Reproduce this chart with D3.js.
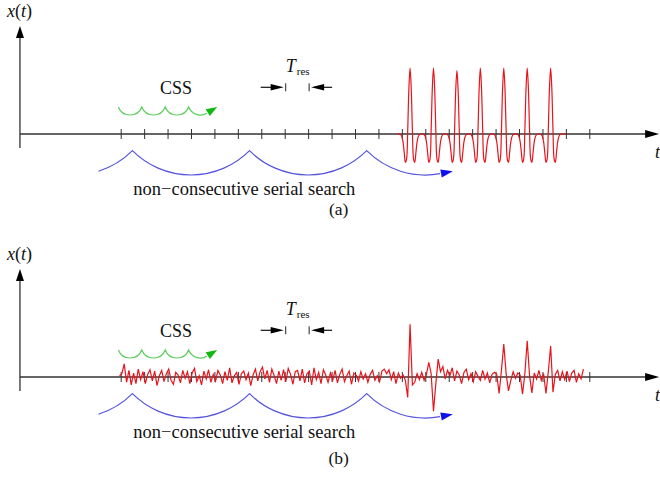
<!DOCTYPE html>
<html>
<head>
<meta charset="utf-8">
<script src="https://cdn.jsdelivr.net/npm/d3@7"></script>
<style>
body { margin: 0; background: #fff; }
</style>
</head>
<body>
<script>
// time axis ticks, one per T_res
var tickValues = [0, 1, 2, 3, 4, 5, 6, 7, 8, 9, 10, 11, 12, 13, 14, 15, 16, 17, 18, 19, 20];

// (a) clean pulse train, sampled every 0.05 T_res from t = 11.8
var cleanStart = 11.8, cleanStep = 0.05;
var cleanValues = [
    0, 0, 0, -0.01, -0.04, -0.12, -0.28, -0.43, -0.38, 0.06, 0.69, 1,
    0.69, 0.06, -0.38, -0.43, -0.28, -0.12, -0.04, -0.01, 0, 0, 0, -0.01, -0.04, -0.12, -0.28, -0.43, -0.38, 0.06, 0.69, 1,
    0.69, 0.06, -0.38, -0.43, -0.28, -0.12, -0.04, -0.01, 0, 0, 0, -0.01, -0.04, -0.12, -0.28, -0.43, -0.38, 0.06, 0.67, 0.96,
    0.67, 0.06, -0.38, -0.43, -0.28, -0.12, -0.04, -0.01, 0, 0, 0, -0.01, -0.04, -0.12, -0.28, -0.43, -0.38, 0.06, 0.69, 1,
    0.69, 0.06, -0.38, -0.43, -0.28, -0.12, -0.04, -0.01, 0, 0, 0, -0.01, -0.04, -0.12, -0.28, -0.43, -0.38, 0.06, 0.69, 1,
    0.69, 0.06, -0.38, -0.43, -0.28, -0.12, -0.04, -0.01, 0, 0, 0, -0.01, -0.04, -0.12, -0.28, -0.43, -0.38, 0.06, 0.69, 1,
    0.69, 0.06, -0.38, -0.43, -0.28, -0.12, -0.04, -0.01, 0, 0, 0, -0.01, -0.04, -0.12, -0.28, -0.43, -0.38, 0.06, 0.69, 1,
    0.69, 0.06, -0.38, -0.43, -0.28, -0.12, -0.04, -0.01, 0, 0, 0, 0, 0
];

// (b) received signal in noise, sampled every 0.1 T_res from t = -0.05
var noisyStart = -0.05, noisyStep = 0.1;
var noisyValues = [
    0.02,
    0.05, 0.2, -0.08, 0.1, -0.12, 0.06, -0.1, 0.12, -0.04, 0.08,
    -0.1, 0.04, 0.11, -0.06, 0.09, -0.13, 0.02, 0.1, -0.07, 0.05,
    0.12, -0.05, -0.11, 0.07, 0.03, -0.09, 0.1, -0.02, 0.08, -0.1,
    0.06, 0.13, -0.07, 0.02, -0.12, 0.09, -0.03, 0.11, -0.08, 0.04,
    -0.06, 0.1, 0.03, -0.1, 0.08, -0.05, 0.14, -0.09, 0.02, 0.07,
    -0.11, 0.05, 0.09, -0.04, 0.06, -0.13, 0.03, 0.12, -0.06, 0.08,
    0.15, -0.03, 0.1, -0.08, 0.12, 0.02, -0.1, 0.09, -0.05, 0.11,
    -0.07, 0.13, 0.04, -0.11, 0.08, 0.1, -0.06, 0.12, -0.09, 0.05,
    0.09, -0.12, 0.14, -0.04, 0.07, -0.1, 0.11, 0.03, -0.08, 0.06,
    -0.05, 0.1, -0.09, 0.04, 0.12, -0.07, 0.02, 0.09, -0.11, 0.06,
    0.03, -0.06, 0.08, -0.03, 0.05, -0.08, 0.04, 0.1, -0.05, 0.02,
    -0.07, 0.09, 0.12, 0.05, 0.11, -0.04, 0.08, -0.1, 0.06, -0.02,
    0.03, -0.05, -0.31, 0.8, -0.12, -0.08, 0.05, -0.04, 0.07, -0.05,
    0.04, 0.22, 0.05, -0.52, -0.1, 0.27, 0.08, 0.16, -0.03, 0.1,
    0.02, 0.14, -0.06, 0.09, 0.03, -0.1, 0.07, 0.12, -0.04, 0.05,
    -0.07, 0.08, 0.01, -0.05, 0.1, -0.03, 0.06, -0.09, 0.04, 0.07,
    0.04, -0.25, 0.1, 0.5, 0.05, -0.21, -0.05, 0.08, -0.02, 0.06,
    0.03, -0.26, 0.05, 0.55, 0.02, -0.24, 0.06, -0.03, 0.1, -0.05,
    0.05, -0.25, 0.08, 0.47, -0.23, 0.04, 0.1, -0.06, 0.08, -0.04,
    0.09, -0.07, 0.06, 0.1, -0.08, 0.05, -0.03, 0.12
];

// search hops, in T_res units (cusp positions and end of the arrow)
var cssCusps = [-0.1, 0.9, 1.9, 2.9];
var cssStart = -0.1, cssEnd = 3.68;
var serialCusps = [0.5, 5.5, 10.5];
var serialStart = -0.95, serialEnd = 13.63;

var resMarks = [7, 8];   // T_res bars
var axisRange = [-4.3, 22.98];

var width = 660, height = 478;
var serifFont = "'Liberation Serif'";

var svg = d3.select("body")
    .append("svg")
    .attr("width", width)
    .attr("height", height);

var x = d3.scaleLinear()
    .domain([0, 20])
    .range([120.7, 589.3]);

function toPoints(start, step, values){
    return values.map(function(v, i){ return [start + i * step, v]; });
}

function addText(g, px, py, size){
    return g.append("text")
        .attr("x", px).attr("y", py)
        .style("font-size", size + "px")
        .style("font-family", serifFont)
        .style("fill", "#111");
}

//draw one panel with its signal
function drawPanel(axisY, signal, curve, caption, captionY){
    var g = svg.append("g");
    var y = d3.scaleLinear().domain([-1, 1]).range([axisY + 66, axisY - 66]);
    var x0 = x(axisRange[0]), x1 = x(axisRange[1]);

    //y axis with arrow
    g.append("line")
        .attr("x1", x0).attr("x2", x0)
        .attr("y1", axisY + 14).attr("y2", axisY - 100)
        .attr("stroke", "#333").attr("stroke-width", 1.3);
    g.append("path")
        .attr("d", "M" + x0 + "," + (axisY - 108) + "L" + (x0 - 4) + "," + (axisY - 96) + "L" + (x0 + 4) + "," + (axisY - 96) + "Z")
        .attr("fill", "#000");

    //x axis with arrow
    g.append("line")
        .attr("x1", x0).attr("x2", x1 - 10)
        .attr("y1", axisY).attr("y2", axisY)
        .attr("stroke", "#333").attr("stroke-width", 1.3);
    g.append("path")
        .attr("d", "M" + x1 + "," + axisY + "L" + (x1 - 14) + "," + (axisY - 4) + "L" + (x1 - 14) + "," + (axisY + 4) + "Z")
        .attr("fill", "#000");

    //ticks through the axis
    var ax = g.append("g")
        .attr("transform", "translate(0," + (axisY - 5) + ")")
        .call(d3.axisBottom(x).tickValues(tickValues).tickSize(10).tickFormat(""));
    ax.select(".domain").remove();
    ax.selectAll(".tick line").attr("stroke", "#333").attr("stroke-width", 1);

    //labels
    var yl = addText(g, x0 - 13, axisY - 117, 18);
    yl.append("tspan").style("font-style", "italic").text("x");
    yl.append("tspan").text("(");
    yl.append("tspan").style("font-style", "italic").text("t");
    yl.append("tspan").text(")");

    addText(g, x1 - 4, axisY + 24, 18)
        .style("font-style", "italic")
        .text("t");

    addText(g, 160, axisY - 40, 18).text("CSS");

    var tr = addText(g, x(7) + 1, axisY - 62, 18);
    tr.append("tspan").style("font-style", "italic").text("T");
    tr.append("tspan").style("font-size", "11px").attr("dy", 3).attr("dx", 1).text("res");

    //T_res bars and arrows
    var ry = axisY - 46.7;
    g.selectAll(".resBar")
        .data(resMarks)
        .enter()
        .append("line")
        .attr("class", "resBar")
        .attr("x1", function(d){ return x(d) + 1; })
        .attr("x2", function(d){ return x(d) + 1; })
        .attr("y1", ry - 4).attr("y2", ry + 4)
        .attr("stroke", "#222").attr("stroke-width", 1);
    [[x(resMarks[0]) - 24, x(resMarks[0]) - 1], [x(resMarks[1]) + 24, x(resMarks[1]) + 3]].forEach(function(a){
        var dir = a[1] > a[0] ? 1 : -1;
        g.append("line")
            .attr("x1", a[0]).attr("x2", a[1] - dir * 8)
            .attr("y1", ry).attr("y2", ry)
            .attr("stroke", "#111").attr("stroke-width", 1.2);
        g.append("path")
            .attr("d", "M" + a[1] + "," + ry + "L" + (a[1] - dir * 13) + "," + (ry - 3.2) + "L" + (a[1] - dir * 13) + "," + (ry + 3.2) + "Z")
            .attr("fill", "#000");
    });

    //hop arcs
    drawHops(g, cssCusps, cssStart, cssEnd, axisY - 27, 8, "#5ccf5c", "#12b812", 12, 4);
    drawHops(g, serialCusps, serialStart, serialEnd, axisY + 16.7, 24.3, "#5555dd", "#1010ee", 13, 4);

    addText(g, 133.3, axisY + 61, 18.5).text("non\u2212consecutive serial search");

    //signal
    var line = d3.line()
        .x(function(d){ return x(d[0]); })
        .y(function(d){ return y(d[1]); })
        .curve(curve);
    g.append("path")
        .datum(signal)
        .attr("d", line)
        .attr("fill", "none")
        .attr("stroke", "#e8141c")
        .attr("stroke-width", 1.2);

    addText(svg, 338.7, captionY, 17.5)
        .attr("text-anchor", "middle")
        .text(caption);
}

//chain of circular arcs between cusps, ending in an arrow head
function drawHops(g, cusps, startT, endT, yCusp, sag, lineColor, headColor, headLen, headW){
    var hw = (x(cusps[1]) - x(cusps[0])) / 2;
    var R = (hw * hw + sag * sag) / (2 * sag);
    var cy = yCusp + sag - R;
    var centers = [x(cusps[0]) - hw];
    for (var i = 0; i < cusps.length - 1; i++){
        centers.push((x(cusps[i]) + x(cusps[i + 1])) / 2);
    }
    centers.push(x(cusps[cusps.length - 1]) + hw);
    var xs = x(startT), xe = x(endT);
    var p = d3.path();
    var lastA, lastC;
    function ang(px, cx){
        var dx = px - cx;
        return Math.atan2(Math.sqrt(Math.max(R * R - dx * dx, 0)), dx);
    }
    centers.forEach(function(cx){
        var a = Math.max(cx - hw, xs), b = Math.min(cx + hw, xe);
        if (b <= a) return;
        p.arc(cx, cy, R, ang(a, cx), ang(b, cx), true);
        lastA = ang(b, cx); lastC = cx;
    });
    g.append("path")
        .attr("d", p.toString())
        .attr("fill", "none")
        .attr("stroke", lineColor)
        .attr("stroke-width", 1.2);

    //arrow head along the tangent at the end
    var ex = lastC + R * Math.cos(lastA), ey = cy + R * Math.sin(lastA);
    var dx = Math.sin(lastA), dy = -Math.cos(lastA);
    var tx = ex + headLen * dx, ty = ey + headLen * dy;
    var bx = ex + 1 * dx, by = ey + 1 * dy;
    g.append("path")
        .attr("d", "M" + tx + "," + ty + "L" + (bx - headW * dy) + "," + (by + headW * dx) + "L" + (bx + headW * dy) + "," + (by - headW * dx) + "Z")
        .attr("fill", headColor);
}

drawPanel(134, toPoints(cleanStart, cleanStep, cleanValues), d3.curveCatmullRom, "(a)", 215);
drawPanel(377, toPoints(noisyStart, noisyStep, noisyValues), d3.curveLinear, "(b)", 464);
</script>
</body>
</html>
